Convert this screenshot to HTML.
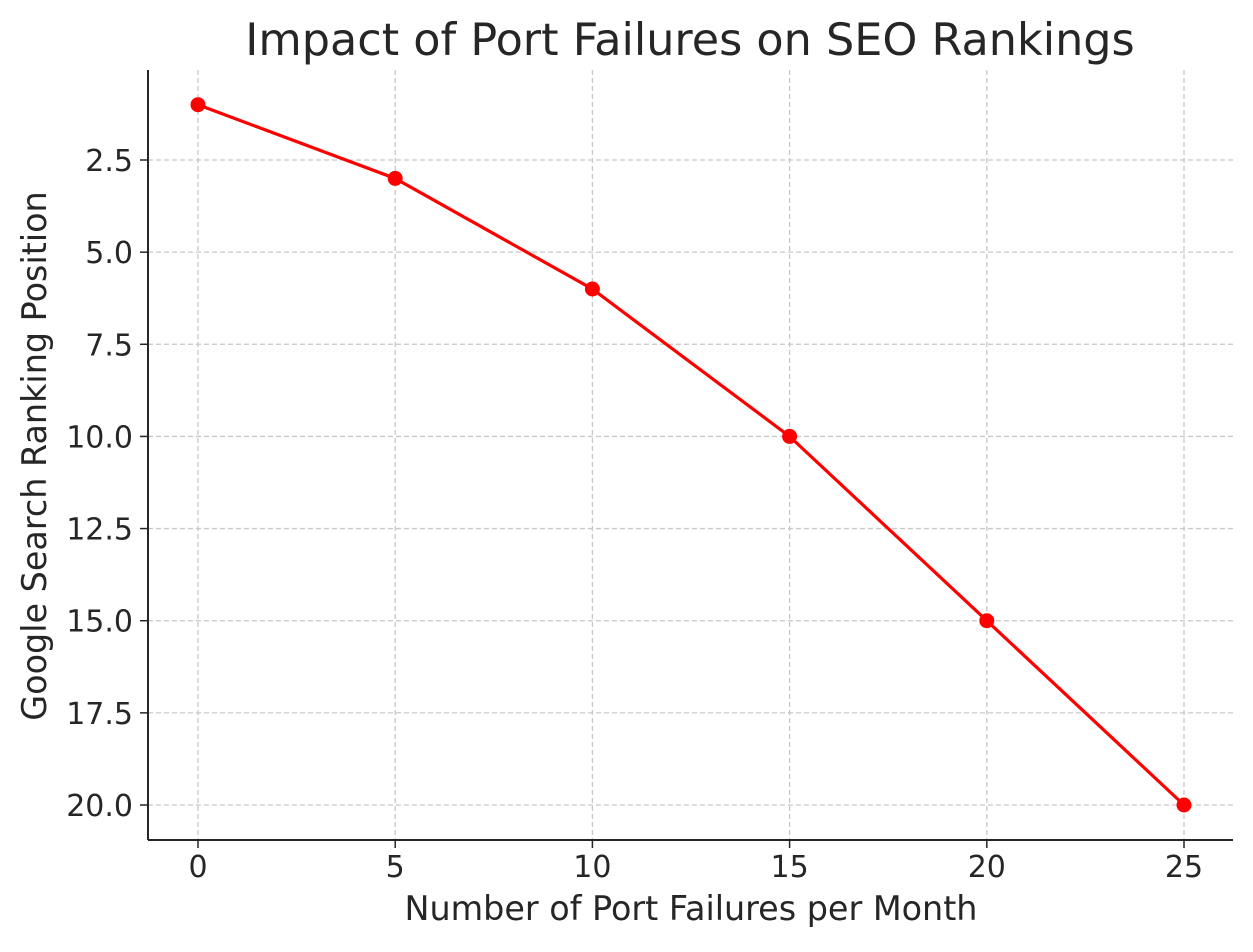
<!DOCTYPE html>
<html><head><meta charset="utf-8"><style>
body{margin:0;background:#fff;}
svg text{font-family:"DejaVu Sans","Liberation Sans",sans-serif;fill:#262626;}
</style></head><body>
<svg id="chart" width="1253" height="947" viewBox="0 0 1253 947" xmlns="http://www.w3.org/2000/svg">
<rect width="1253" height="947" fill="#fff"/>
<text x="690" y="55" font-size="44.5" text-anchor="middle">Impact of Port Failures on SEO Rankings</text>
<g id="grid"></g>
<g id="ticks"></g>
<line x1="148" y1="70" x2="148" y2="840" stroke="#262626" stroke-width="2"/>
<line x1="148" y1="840" x2="1233" y2="840" stroke="#262626" stroke-width="2"/>
<g id="series"></g>
<text x="691" y="920" font-size="33.4" text-anchor="middle">Number of Port Failures per Month</text>
<text transform="translate(46,456) rotate(-90)" font-size="33.4" text-anchor="middle">Google Search Ranking Position</text>
</svg>
<script>
const failures=[0,5,10,15,20,25];
const rankings=[1,3,6,10,15,20];
const xTicks=[0,5,10,15,20,25];
const yTicks=[2.5,5.0,7.5,10.0,12.5,15.0,17.5,20.0];
const NS="http://www.w3.org/2000/svg";
function xs(v){return 198+(v-0)*(1184-198)/25;}
function ys(v){return 160+(v-2.5)*(805-160)/17.5;}
function mk(tag,attrs,parent){const e=document.createElementNS(NS,tag);for(const k in attrs)e.setAttribute(k,attrs[k]);parent.appendChild(e);return e;}
const grid=document.getElementById('grid'),ticks=document.getElementById('ticks'),series=document.getElementById('series');
xTicks.forEach(t=>{
 const g=mk('line',{x1:xs(t),x2:xs(t),y1:70,y2:840,stroke:'#c8c8c8','stroke-width':1.3,'stroke-dasharray':'5,3'},grid);
 
 
 const tk=mk('line',{x1:xs(t),x2:xs(t),y1:840,y2:848,stroke:'#262626','stroke-width':1.5},ticks);
 
 
 const tx=mk('text',{x:xs(t),y:877,'font-size':30,'text-anchor':'middle'},ticks);
 tx.textContent=t;
 
 
});
yTicks.forEach(t=>{
 const g=mk('line',{x1:148,x2:1233,y1:ys(t),y2:ys(t),stroke:'#c8c8c8','stroke-width':1.3,'stroke-dasharray':'5,3'},grid);
 
 
 const tk=mk('line',{x1:140,x2:148,y1:ys(t),y2:ys(t),stroke:'#262626','stroke-width':1.5},ticks);
 
 
 const tx=mk('text',{x:133,y:ys(t)+11,'font-size':30,'text-anchor':'end'},ticks);
 tx.textContent=t.toFixed(1);
 
 
});
const pts=failures.map((f,i)=>xs(f)+','+ys(rankings[i])).join(' ');
const line=mk('polyline',{points:pts,fill:'none',stroke:'#ff0000','stroke-width':3.2},series);


failures.forEach((f,i)=>{
 const c=mk('circle',{cx:xs(f),cy:ys(rankings[i]),r:7.5,fill:'#ff0000'},series);
 
 
});
</script>
</body></html>
